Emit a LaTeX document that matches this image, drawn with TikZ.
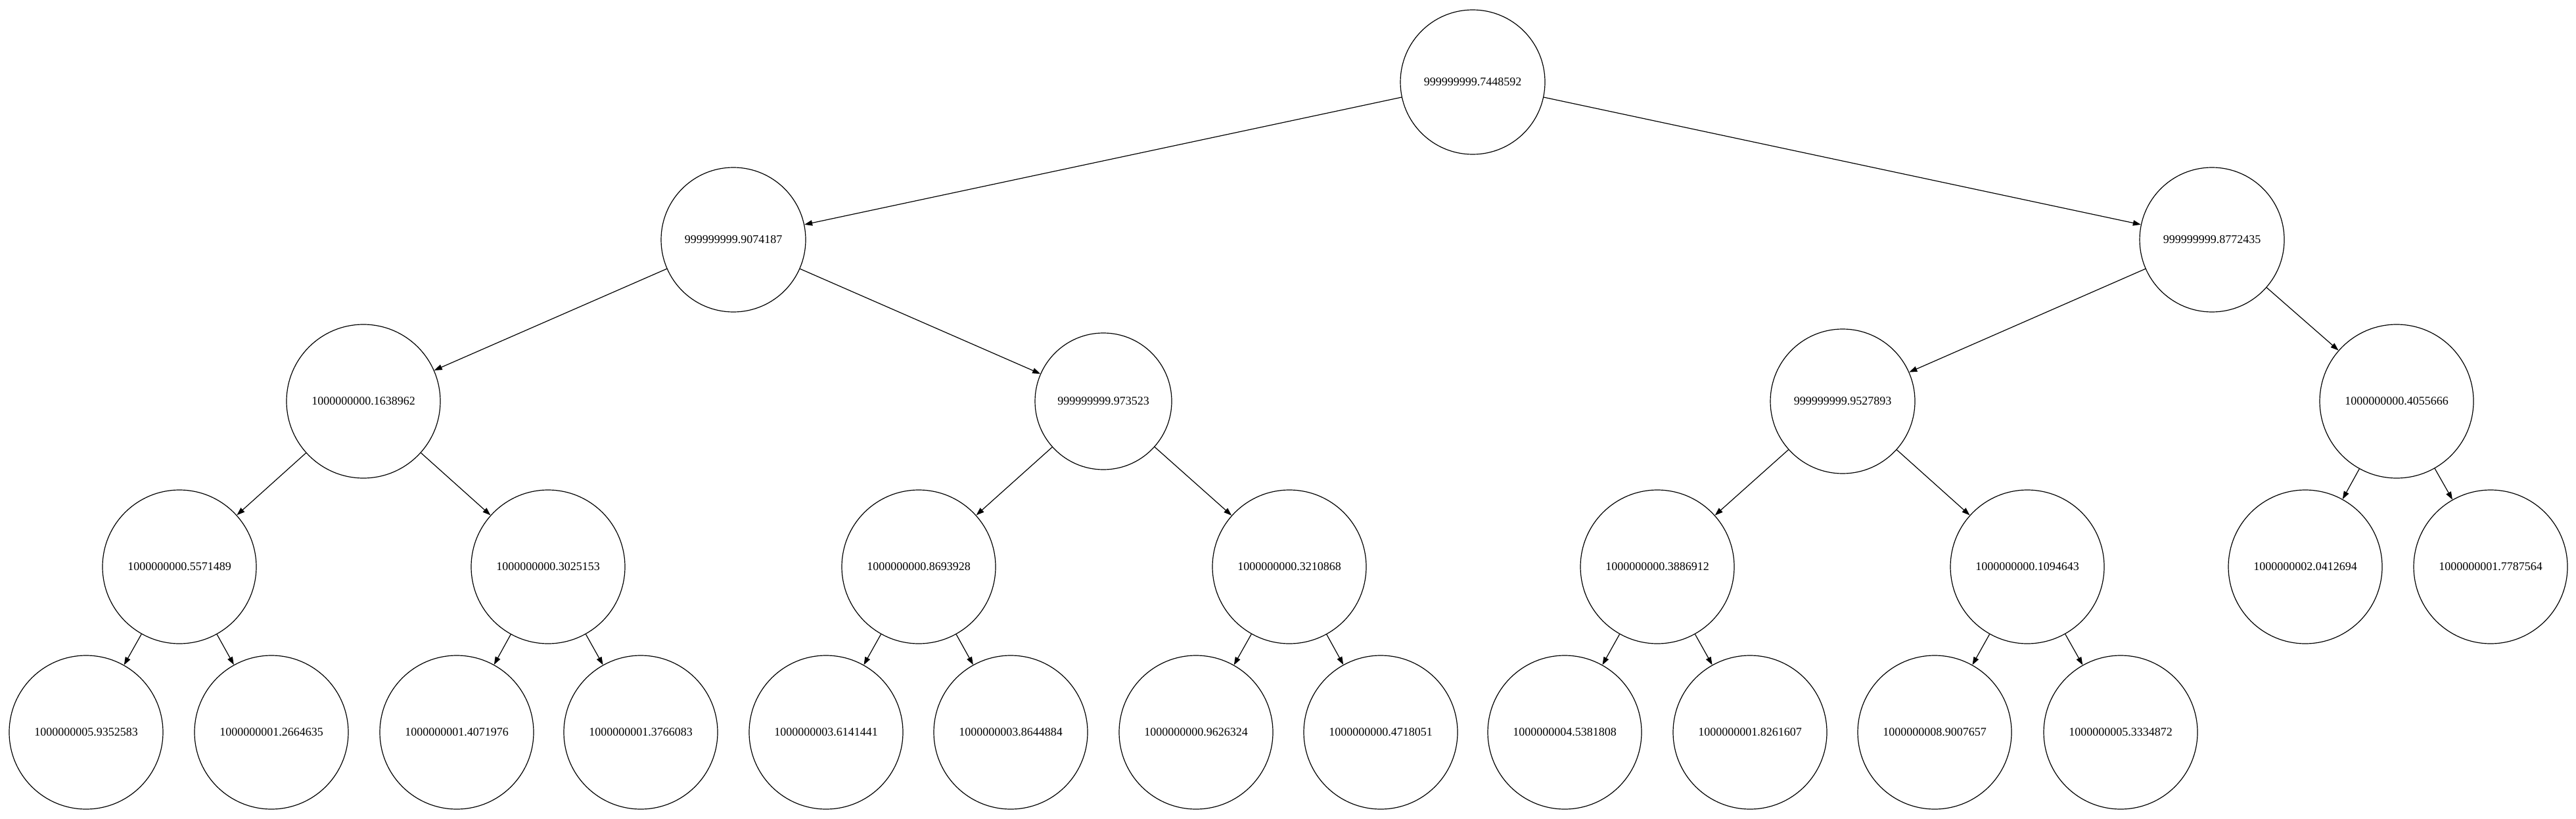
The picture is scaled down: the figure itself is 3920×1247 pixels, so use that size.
\documentclass[tikz,border=0pt]{standalone}
\usepackage{fontspec}
\setmainfont{Liberation Serif}
\usetikzlibrary{arrows.meta}
\begin{document}
\begin{tikzpicture}[x=0.5pt,y=-0.5pt,
  nd/.style={circle,draw=black,line width=0.6pt,inner sep=0pt,font=\fontsize{9pt}{10pt}\selectfont},
  rbig/.style={nd,minimum size=117pt},
  rmid/.style={nd,minimum size=110pt},
  rsmall/.style={nd,minimum size=104pt},
  edge/.style={line width=0.6pt,-{Triangle[length=6pt,width=4.2pt]}}]
\useasboundingbox[fill=white] (0,0) rectangle (3920,1247);
% level 0
\node[rmid] (r) at (2241,125) {999999999.7448592};
% level 1
\node[rmid] (A) at (1116,365) {999999999.9074187};
\node[rmid] (B) at (3366,365) {999999999.8772435};
% level 2
\node[rbig] (C) at (553,611) {1000000000.1638962};
\node[rsmall] (D) at (1679,611) {999999999.973523};
\node[rmid] (E) at (2804,611) {999999999.9527893};
\node[rbig] (F) at (3647,611) {1000000000.4055666};
% level 3
\node[rbig] (C1) at (273,863) {1000000000.5571489};
\node[rbig] (C2) at (834,863) {1000000000.3025153};
\node[rbig] (D1) at (1398,863) {1000000000.8693928};
\node[rbig] (D2) at (1962,863) {1000000000.3210868};
\node[rbig] (E1) at (2522,863) {1000000000.3886912};
\node[rbig] (E2) at (3085,863) {1000000000.1094643};
\node[rbig] (F1) at (3508,863) {1000000002.0412694};
\node[rbig] (F2) at (3790,863) {1000000001.7787564};
% level 4
\node[rbig] (C1a) at (131,1115) {1000000005.9352583};
\node[rbig] (C1b) at (413,1115) {1000000001.2664635};
\node[rbig] (C2a) at (695,1115) {1000000001.4071976};
\node[rbig] (C2b) at (975,1115) {1000000001.3766083};
\node[rbig] (D1a) at (1257,1115) {1000000003.6141441};
\node[rbig] (D1b) at (1538,1115) {1000000003.8644884};
\node[rbig] (D2a) at (1820,1115) {1000000000.9626324};
\node[rbig] (D2b) at (2101,1115) {1000000000.4718051};
\node[rbig] (E1a) at (2381,1115) {1000000004.5381808};
\node[rbig] (E1b) at (2663,1115) {1000000001.8261607};
\node[rbig] (E2a) at (2944,1115) {1000000008.9007657};
\node[rbig] (E2b) at (3227,1115) {1000000005.3334872};
% edges
\draw[edge] (r) -- (A);
\draw[edge] (r) -- (B);
\draw[edge] (A) -- (C);
\draw[edge] (A) -- (D);
\draw[edge] (B) -- (E);
\draw[edge] (B) -- (F);
\draw[edge] (C) -- (C1);
\draw[edge] (C) -- (C2);
\draw[edge] (D) -- (D1);
\draw[edge] (D) -- (D2);
\draw[edge] (E) -- (E1);
\draw[edge] (E) -- (E2);
\draw[edge] (F) -- (F1);
\draw[edge] (F) -- (F2);
\draw[edge] (C1) -- (C1a);
\draw[edge] (C1) -- (C1b);
\draw[edge] (C2) -- (C2a);
\draw[edge] (C2) -- (C2b);
\draw[edge] (D1) -- (D1a);
\draw[edge] (D1) -- (D1b);
\draw[edge] (D2) -- (D2a);
\draw[edge] (D2) -- (D2b);
\draw[edge] (E1) -- (E1a);
\draw[edge] (E1) -- (E1b);
\draw[edge] (E2) -- (E2a);
\draw[edge] (E2) -- (E2b);
\end{tikzpicture}
\end{document}
